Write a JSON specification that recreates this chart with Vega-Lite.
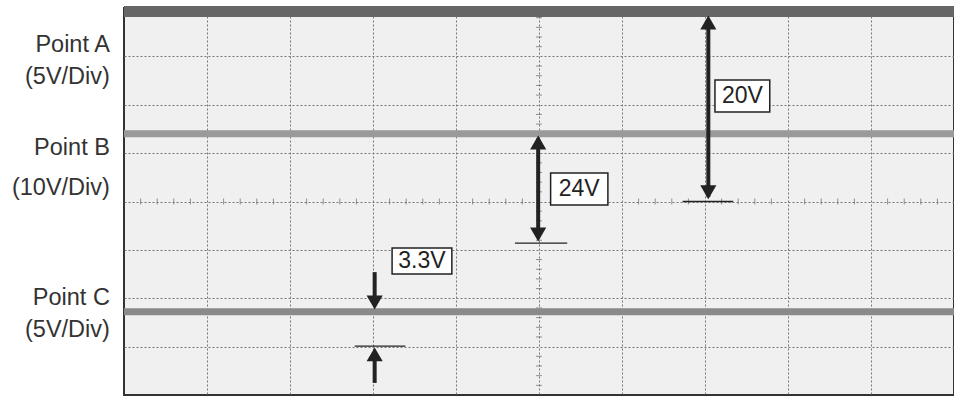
{
  "$schema": "https://vega.github.io/schema/vega-lite/v6.json",
  "width": 830,
  "height": 387,
  "padding": {"left": 124, "top": 8, "right": 0, "bottom": 1},
  "autosize": {"type": "none"},
  "background": "white",
  "config": {
    "view": {"fill": "#f0f0f0", "stroke": "#333333", "strokeWidth": 2},
    "font": "Liberation Sans"
  },
  "datasets": {
    "traces": [
      {"trace": "A", "volts": 3.93},
      {"trace": "B", "volts": 1.4},
      {"trace": "C", "volts": -2.28}
    ],
    "shafts": [
      {"name": "20V", "x": 7.04, "y": 3.75, "y2": 0.1},
      {"name": "24V", "x": 4.99, "y": 1.3, "y2": -0.75},
      {"name": "3.3V down", "x": 3.02, "y": -1.46, "y2": -2.04},
      {"name": "3.3V up", "x": 3.02, "y": -3.75, "y2": -3.21}
    ],
    "heads": [
      {"x": 7.04, "y": 3.7, "dir": "up"},
      {"x": 7.04, "y": 0.19, "dir": "down"},
      {"x": 4.99, "y": 1.22, "dir": "up"},
      {"x": 4.99, "y": -0.68, "dir": "down"},
      {"x": 3.02, "y": -2.09, "dir": "down"},
      {"x": 3.02, "y": -3.16, "dir": "up"}
    ],
    "refs": [
      {"x": 6.73, "x2": 7.34, "y": 0.0},
      {"x": 4.71, "x2": 5.34, "y": -0.86},
      {"x": 2.78, "x2": 3.39, "y": -2.99}
    ],
    "boxes": [
      {"label": "20V", "x": 7.12, "x2": 7.78, "y": 2.51, "y2": 1.85, "cx": 7.45, "cy": 2.18},
      {"label": "24V", "x": 5.14, "x2": 5.83, "y": 0.59, "y2": -0.07, "cx": 5.485, "cy": 0.26},
      {"label": "3.3V", "x": 3.23, "x2": 3.95, "y": -0.96, "y2": -1.5, "cx": 3.59, "cy": -1.23}
    ],
    "side": [
      {"text": "Point A", "y": 3.235},
      {"text": "(5V/Div)", "y": 2.574},
      {"text": "Point B", "y": 1.106},
      {"text": "(10V/Div)", "y": 0.279},
      {"text": "Point C", "y": -1.995},
      {"text": "(5V/Div)", "y": -2.656}
    ],
    "xticks": [
      {"x": 0.2},{"x": 0.4},{"x": 0.6},{"x": 0.8},{"x": 1.2},{"x": 1.4},{"x": 1.6},{"x": 1.8},
      {"x": 2.2},{"x": 2.4},{"x": 2.6},{"x": 2.8},{"x": 3.2},{"x": 3.4},{"x": 3.6},{"x": 3.8},
      {"x": 4.2},{"x": 4.4},{"x": 4.6},{"x": 4.8},{"x": 5.2},{"x": 5.4},{"x": 5.6},{"x": 5.8},
      {"x": 6.2},{"x": 6.4},{"x": 6.6},{"x": 6.8},{"x": 7.2},{"x": 7.4},{"x": 7.6},{"x": 7.8},
      {"x": 8.2},{"x": 8.4},{"x": 8.6},{"x": 8.8},{"x": 9.2},{"x": 9.4},{"x": 9.6},{"x": 9.8}
    ],
    "yticks": [
      {"y": 3.8},{"y": 3.6},{"y": 3.4},{"y": 3.2},{"y": 2.8},{"y": 2.6},{"y": 2.4},{"y": 2.2},
      {"y": 1.8},{"y": 1.6},{"y": 1.4},{"y": 1.2},{"y": 0.8},{"y": 0.6},{"y": 0.4},{"y": 0.2},
      {"y": -0.2},{"y": -0.4},{"y": -0.6},{"y": -0.8},{"y": -1.2},{"y": -1.4},{"y": -1.6},{"y": -1.8},
      {"y": -2.2},{"y": -2.4},{"y": -2.6},{"y": -2.8},{"y": -3.2},{"y": -3.4},{"y": -3.6},{"y": -3.8}
    ]
  },
  "layer": [
    {
      "data": {"name": "traces"},
      "transform": [{"filter": "datum.trace == 'A'"}],
      "mark": {"type": "rule", "color": "#666666", "strokeWidth": 11},
      "encoding": {
        "y": {"field": "volts", "type": "quantitative",
          "scale": {"domain": [-4, 4], "nice": false, "zero": false},
          "axis": {"values": [-3, -2, -1, 0, 1, 2, 3], "grid": true, "gridColor": "#777777", "gridDash": [2, 2], "gridWidth": 1, "gridOpacity": 1, "labels": false, "ticks": false, "domain": false, "title": null}},
        "x": {"datum": 0, "type": "quantitative",
          "scale": {"domain": [0, 10], "nice": false, "zero": false},
          "axis": {"values": [1, 2, 3, 4, 5, 6, 7, 8, 9], "grid": true, "gridColor": "#777777", "gridDash": [2, 2], "gridWidth": 1, "gridOpacity": 1, "labels": false, "ticks": false, "domain": false, "title": null}},
        "x2": {"datum": 10}
      }
    },
    {
      "data": {"name": "xticks"},
      "mark": {"type": "tick", "orient": "vertical", "color": "#666666", "size": 6, "thickness": 1},
      "encoding": {
        "x": {"field": "x", "type": "quantitative"},
        "y": {"datum": 0, "type": "quantitative"}
      }
    },
    {
      "data": {"name": "yticks"},
      "mark": {"type": "tick", "orient": "horizontal", "color": "#666666", "size": 6, "thickness": 1},
      "encoding": {
        "y": {"field": "y", "type": "quantitative"},
        "x": {"datum": 5, "type": "quantitative"}
      }
    },
    {
      "data": {"name": "traces"},
      "transform": [{"filter": "datum.trace == 'B'"}],
      "mark": {"type": "rule", "color": "#9a9a9a", "strokeWidth": 7},
      "encoding": {"y": {"field": "volts", "type": "quantitative"}}
    },
    {
      "data": {"name": "traces"},
      "transform": [{"filter": "datum.trace == 'C'"}],
      "mark": {"type": "rule", "color": "#8a8a8a", "strokeWidth": 7},
      "encoding": {"y": {"field": "volts", "type": "quantitative"}}
    },
    {
      "data": {"name": "refs"},
      "mark": {"type": "rule", "color": "#222222", "strokeWidth": 1.3},
      "encoding": {
        "x": {"field": "x", "type": "quantitative"},
        "x2": {"field": "x2"},
        "y": {"field": "y", "type": "quantitative"}
      }
    },
    {
      "data": {"name": "shafts"},
      "mark": {"type": "rule", "color": "#222222", "strokeWidth": 4},
      "encoding": {
        "x": {"field": "x", "type": "quantitative"},
        "y": {"field": "y", "type": "quantitative"},
        "y2": {"field": "y2"}
      }
    },
    {
      "data": {"name": "heads"},
      "mark": {"type": "point", "filled": true, "color": "#222222", "opacity": 1},
      "encoding": {
        "x": {"field": "x", "type": "quantitative"},
        "y": {"field": "y", "type": "quantitative"},
        "shape": {"field": "dir", "type": "nominal", "scale": {"domain": ["up", "down"], "range": ["triangle-up", "triangle-down"]}, "legend": null},
        "size": {"value": 260}
      }
    },
    {
      "data": {"name": "boxes"},
      "mark": {"type": "rect", "fill": "white", "stroke": "#222222", "strokeWidth": 1.5},
      "encoding": {
        "x": {"field": "x", "type": "quantitative"},
        "x2": {"field": "x2"},
        "y": {"field": "y", "type": "quantitative"},
        "y2": {"field": "y2"}
      }
    },
    {
      "data": {"name": "boxes"},
      "mark": {"type": "text", "fontSize": 23, "color": "#222222", "align": "center", "baseline": "middle", "font": "Liberation Sans"},
      "encoding": {
        "x": {"field": "cx", "type": "quantitative"},
        "y": {"field": "cy", "type": "quantitative"},
        "text": {"field": "label"}
      }
    },
    {
      "data": {"name": "side"},
      "mark": {"type": "text", "fontSize": 23.5, "color": "#333333", "align": "right", "baseline": "middle", "font": "Liberation Sans", "clip": false},
      "encoding": {
        "x": {"datum": -0.17, "type": "quantitative"},
        "y": {"field": "y", "type": "quantitative"},
        "text": {"field": "text"}
      }
    }
  ]
}
